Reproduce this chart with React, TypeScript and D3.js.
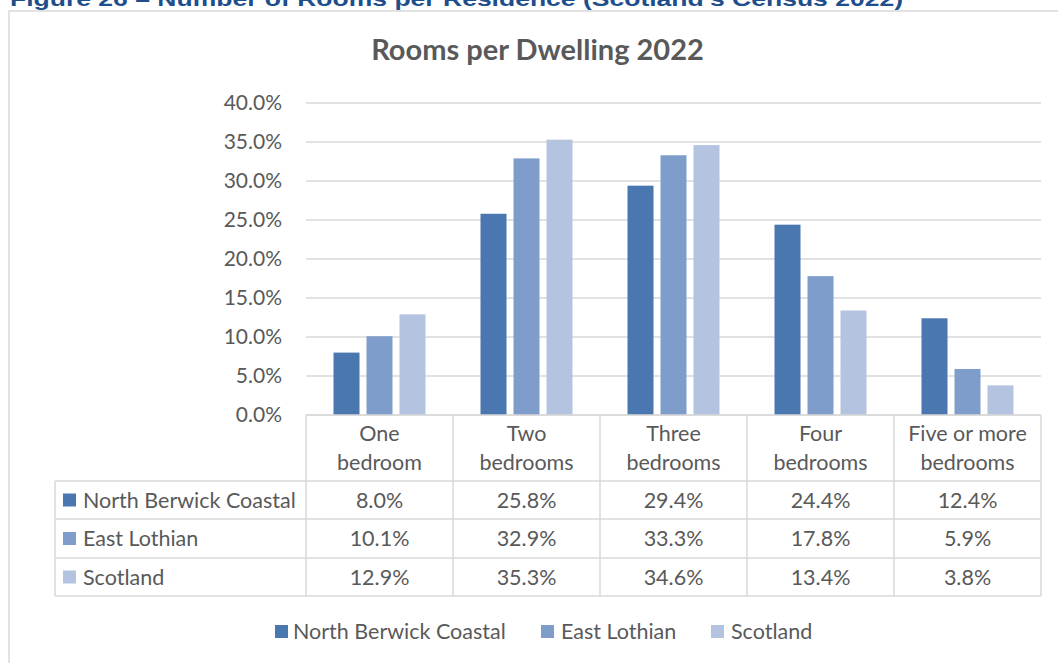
import React from "react";
import * as d3 from "d3";

const categories = [["One", "bedroom"], ["Two", "bedrooms"], ["Three", "bedrooms"], ["Four", "bedrooms"], ["Five or more", "bedrooms"]];
const seriesNames = ["North Berwick Coastal", "East Lothian", "Scotland"];
const northBerwick = [8.0, 25.8, 29.4, 24.4, 12.4];
const eastLothian = [10.1, 32.9, 33.3, 17.8, 5.9];
const scotland = [12.9, 35.3, 34.6, 13.4, 3.8];
const yTicks = [0, 5, 10, 15, 20, 25, 30, 35, 40];
const colors = ["#4A77B0", "#7F9DCA", "#B4C4E0"];

const series = [northBerwick, eastLothian, scotland];

const W = 1058;
const H = 663;
const FONT = "Lato, 'Open Sans', sans-serif";
const TXT = "#595959";
const GRID = "#D9D9D9";
const FS = 21.5;

export default function App() {
  const x0 = 306, x1 = 1041;
  const yBase = 415, yTop = 103;
  const x = d3.scaleBand<number>().domain(d3.range(categories.length)).range([x0, x1]).padding(0);
  const inner = d3.scaleBand<number>().domain(d3.range(series.length)).range([27.5, x.bandwidth() - 27.5]).paddingInner(0.212).paddingOuter(0);
  const y = d3.scaleLinear().domain([0, 40]).range([yBase, yTop]);

  const tableLeft = 55;
  const rowLines = [481, 519, 558, 596];
  const colLines = x.domain().map((i) => x(i)!).concat([x1]);

  const legendItems = [
    { sq: 275, tx: 293 },
    { sq: 541, tx: 561 },
    { sq: 711, tx: 731 },
  ];

  return (
    <svg width={W} height={H} style={{ position: "absolute", left: 0, top: 0, background: "#fff" }}>
      <rect x={0} y={0} width={W} height={H} fill="#fff" />
      <text x={10} y={5.5} fontFamily="'Liberation Sans', Arial, sans-serif" fontWeight="bold" fontSize={21} fill="#1F4E8C" textLength={893} lengthAdjust="spacingAndGlyphs">
        Figure 26 – Number of Rooms per Residence (Scotland's Census 2022)
      </text>
      <rect x={9} y={11} width={W + 20} height={H + 20} fill="#fff" stroke={GRID} strokeWidth={1.5} />
      <text x={537.5} y={60} textAnchor="middle" fontFamily={FONT} fontWeight="bold" fontSize={29} fill={TXT}>
        Rooms per Dwelling 2022
      </text>

      {yTicks.map((t) => (
        <g key={t}>
          <line x1={x0} x2={x1} y1={y(t)} y2={y(t)} stroke={GRID} strokeWidth={1.5} />
          <text x={282} y={y(t)} dy="0.35em" textAnchor="end" fontFamily={FONT} fontSize={21} fill={TXT}>
            {t.toFixed(1)}%
          </text>
        </g>
      ))}

      {categories.map((c, ci) => (
        <g key={ci} transform={`translate(${x(ci)},0)`}>
          {series.map((s, si) => (
            <rect key={si} x={inner(si)} y={y(s[ci])} width={inner.bandwidth()} height={yBase - y(s[ci])} fill={colors[si]} />
          ))}
        </g>
      ))}

      <line x1={x0} x2={x1} y1={yBase} y2={yBase} stroke={GRID} strokeWidth={1.5} />
      {rowLines.map((ry) => (
        <line key={ry} x1={tableLeft} x2={x1} y1={ry} y2={ry} stroke={GRID} strokeWidth={1.5} />
      ))}
      <line x1={tableLeft} x2={tableLeft} y1={rowLines[0]} y2={rowLines[3]} stroke={GRID} strokeWidth={1.5} />
      {colLines.map((cx) => (
        <line key={cx} x1={cx} x2={cx} y1={yBase} y2={rowLines[3]} stroke={GRID} strokeWidth={1.5} />
      ))}

      {categories.map((c, ci) => (
        <text key={ci} textAnchor="middle" fontFamily={FONT} fontSize={FS} fill={TXT}>
          <tspan x={x(ci)! + x.bandwidth() / 2} y={433} dy="0.35em">{c[0]}</tspan>
          <tspan x={x(ci)! + x.bandwidth() / 2} y={462} dy="0.35em">{c[1]}</tspan>
        </text>
      ))}

      {seriesNames.map((name, si) => {
        const top = rowLines[si];
        const bot = rowLines[si + 1];
        const cy = (top + bot) / 2;
        return (
          <g key={name}>
            <rect x={63} y={cy - 6.5} width={13} height={13} fill={colors[si]} />
            <text x={83} y={cy} dy="0.35em" fontFamily={FONT} fontSize={FS} fill={TXT}>{name}</text>
            {series[si].map((v, ci) => (
              <text key={ci} x={x(ci)! + x.bandwidth() / 2} y={cy} dy="0.35em" textAnchor="middle" fontFamily={FONT} fontSize={FS} fill={TXT}>
                {v.toFixed(1)}%
              </text>
            ))}
          </g>
        );
      })}

      {seriesNames.map((name, si) => (
        <g key={"lg" + name}>
          <rect x={legendItems[si].sq} y={625} width={13} height={13} fill={colors[si]} />
          <text x={legendItems[si].tx} y={631.5} dy="0.35em" fontFamily={FONT} fontSize={FS} fill={TXT}>{name}</text>
        </g>
      ))}
    </svg>
  );
}
